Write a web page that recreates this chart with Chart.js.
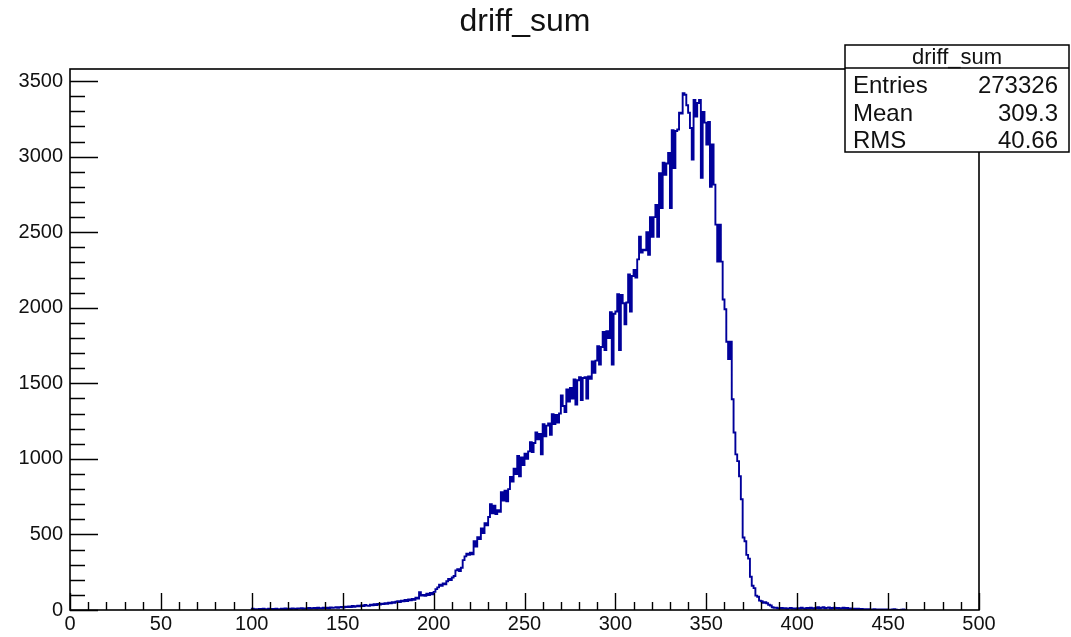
<!DOCTYPE html>
<html lang="en">
<head>
  <meta charset="UTF-8" />
  <title>driff_sum</title>
  <script src="https://cdn.jsdelivr.net/npm/chart.js"></script>
  <style>
    html, body { margin: 0; padding: 0; background: #fff; }
    #wrap { width: 1071px; height: 637px; position: relative; }
  </style>
</head>
<body>
  <div id="wrap"><canvas id="histChart"></canvas></div>

  <script>
    // histogram: 1-unit bins starting at 100
    const binStart = 100;
    const binWidth = 1;
    const counts = [
      8, 3, 6, 4, 7, 5, 9, 4, 6, 8,
      5, 7, 4, 9, 6, 5, 8, 7, 10, 6,
      9, 7, 11, 8, 6, 10, 9, 12, 8, 11,
      10, 13, 9, 12, 14, 10, 15, 12, 11, 16,
      13, 15, 12, 17, 14, 16, 19, 15, 18, 21,
      17, 22, 19, 24, 20, 26, 22, 25, 28, 24,
      30, 26, 33, 29, 27, 35, 31, 38, 33, 40,
      36, 42, 39, 45, 41, 48, 44, 52, 47, 55,
      58, 52, 62, 57, 66, 60, 70, 64, 73, 68,
      82, 76, 118, 96, 100, 94, 108, 99, 112, 104,
      120, 138, 150, 168, 160, 175, 170, 190, 205, 198,
      215, 225, 262, 270, 258, 280, 330, 355, 372, 365,
      380, 368, 455, 420, 482, 470, 540, 510, 575, 560,
      615, 700, 640, 690, 635, 660, 650, 780, 725, 790,
      720, 800, 880, 850, 935, 900, 1020, 885, 1010, 960,
      1035, 1000, 1050, 1110, 1045, 1105, 1175, 1130, 1165, 1030,
      1230, 1150, 1220, 1235, 1160, 1295, 1230, 1290, 1240, 1300,
      1420, 1350, 1310, 1460, 1380, 1470, 1400, 1525, 1360, 1520,
      1540, 1390, 1535, 1540, 1400, 1545, 1530, 1645, 1570, 1650,
      1745, 1625, 1740, 1840, 1720, 1845, 1800, 1970, 1625, 1960,
      1975, 2090, 1720, 2085, 2030, 1890, 2035, 2220, 1975, 2210,
      2250, 2200, 2320, 2470, 2365, 2385, 2380, 2500, 2350, 2600,
      2470, 2600, 2680, 2470, 2890, 2660, 2960, 2880, 2955, 3025,
      2660, 3175, 2925, 3170, 3180, 3290, 3285, 3420, 3410, 3340,
      3290, 3190, 2980, 3375, 3265, 3355, 3375, 2860, 3295, 3225,
      3080, 3230, 2800, 3080, 2815, 2550, 2305, 2550, 2305, 2055,
      1990, 1775, 1660, 1775, 1395, 1175, 1030, 985, 885, 733,
      480, 455, 365, 340, 220, 160, 145, 95, 88, 62,
      58, 48, 52, 45, 35, 30, 18, 14, 16, 12,
      10, 14, 9, 12, 8, 11, 13, 9, 10, 8,
      12, 9, 15, 11, 8, 14, 10, 16, 12, 9,
      13, 18, 11, 15, 19, 12, 14, 17, 10, 13,
      16, 11, 14, 9, 12, 15, 10, 13, 8, 11,
      7, 9, 6, 8, 5, 7, 4, 6, 3, 5,
      4, 3, 5, 2, 4, 3, 2, 4, 1, 3,
      2, 1, 3, 6, 2, 1, 0, 2, 3, 1
    ];

    const xTicks = [0, 50, 100, 150, 200, 250, 300, 350, 400, 450, 500];
    const yTicks = [0, 500, 1000, 1500, 2000, 2500, 3000, 3500];

    const histTitle = 'driff_sum';
    const statsLabels = ['Entries', 'Mean', 'RMS'];
    const statsValues = ['273326', '309.3', '40.66'];

    const FONT = '"Liberation Sans", Arial, sans-serif';

    // step outline points at bin edges
    const points = [{ x: binStart, y: 0 }];
    counts.forEach((c, i) => points.push({ x: binStart + i * binWidth, y: c }));
    points.push({ x: binStart + counts.length * binWidth, y: 0 });

    // ROOT style frame, inner ticks, title and the stats box
    const rootFrame = {
      id: 'rootFrame',
      afterDatasetsDraw(chart) {
        const { ctx, chartArea: a, scales: { x, y } } = chart;
        ctx.save();
        ctx.strokeStyle = '#000';
        ctx.lineWidth = 1.6;
        ctx.strokeRect(a.left, a.top, a.right - a.left, a.bottom - a.top);

        ctx.beginPath();
        for (let v = x.min; v <= x.max; v += 10) {
          const px = Math.round(x.getPixelForValue(v)) + 0.5;
          const len = v % 50 === 0 ? 17 : 8;
          ctx.moveTo(px, a.bottom);
          ctx.lineTo(px, a.bottom - len);
        }
        for (let v = 0; v <= y.max; v += 100) {
          const py = Math.round(y.getPixelForValue(v)) + 0.5;
          const len = v % 500 === 0 ? 28 : 15;
          ctx.moveTo(a.left, py);
          ctx.lineTo(a.left + len, py);
        }
        ctx.lineWidth = 1.4;
        ctx.stroke();
        ctx.restore();
      },
      afterDraw(chart) {
        const ctx = chart.ctx;
        ctx.save();
        ctx.fillStyle = '#111';
        ctx.font = '32px ' + FONT;
        ctx.textAlign = 'center';
        ctx.textBaseline = 'middle';
        ctx.fillText(histTitle, 525, 22);

        const bx = 845, by = 45, bw = 224, bh = 107;
        ctx.fillStyle = '#fff';
        ctx.fillRect(bx, by, bw, bh);
        ctx.strokeStyle = '#000';
        ctx.lineWidth = 1.5;
        ctx.strokeRect(bx, by, bw, bh);
        ctx.beginPath();
        ctx.moveTo(bx, 68);
        ctx.lineTo(bx + bw, 68);
        ctx.stroke();

        ctx.fillStyle = '#111';
        ctx.textBaseline = 'alphabetic';
        ctx.font = '22px ' + FONT;
        ctx.textAlign = 'center';
        ctx.fillText(histTitle, bx + bw / 2, 64);

        ctx.font = '24px ' + FONT;
        const rows = [93, 121, 148];
        statsLabels.forEach((lab, i) => {
          ctx.textAlign = 'left';
          ctx.fillText(lab, 853, rows[i]);
          ctx.textAlign = 'right';
          ctx.fillText(statsValues[i], 1058, rows[i]);
        });
        ctx.restore();
      }
    };

    new Chart(document.getElementById('histChart'), {
      type: 'line',
      data: {
        datasets: [{
          data: points,
          stepped: true,
          borderColor: '#00009a',
          borderWidth: 1.9,
          pointRadius: 0,
          fill: false,
          tension: 0
        }]
      },
      options: {
        responsive: true,
        maintainAspectRatio: false,
        animation: false,
        layout: { padding: { left: 0, right: 92, top: 69, bottom: 0 } },
        plugins: {
          legend: { display: false },
          tooltip: { enabled: false },
          title: { display: false }
        },
        scales: {
          x: {
            type: 'linear',
            min: 0,
            max: 500,
            grid: { display: false, drawTicks: false },
            border: { display: false },
            afterBuildTicks: s => { s.ticks = xTicks.map(v => ({ value: v })); },
            afterFit: s => { s.height = 27; },
            ticks: {
              color: '#111',
              padding: 2,
              maxRotation: 0,
              font: { family: FONT, size: 20 },
              callback: v => String(v)
            }
          },
          y: {
            min: 0,
            max: 3580,
            grid: { display: false, drawTicks: false },
            border: { display: false },
            afterBuildTicks: s => { s.ticks = yTicks.map(v => ({ value: v })); },
            afterFit: s => { s.width = 70; },
            ticks: {
              color: '#111',
              padding: 7,
              font: { family: FONT, size: 20 },
              callback: v => String(v)
            }
          }
        }
      },
      plugins: [rootFrame]
    });
  </script>
</body>
</html>
